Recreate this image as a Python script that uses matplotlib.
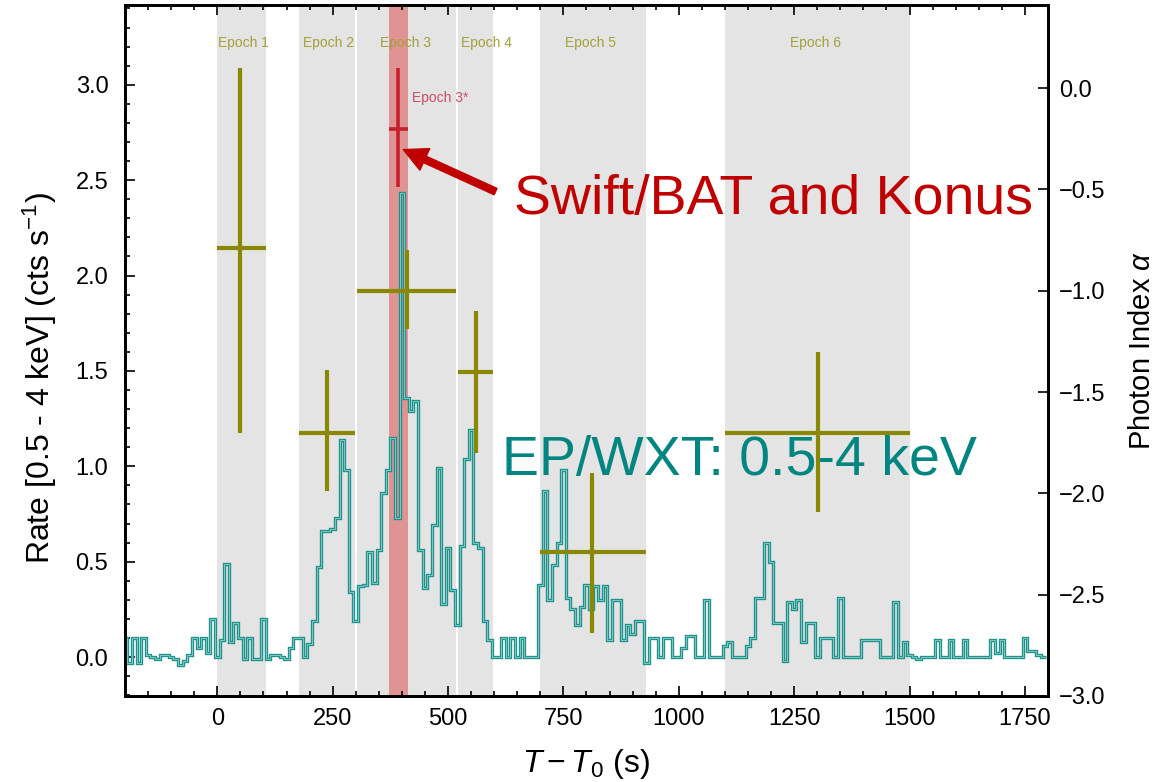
import numpy as np
import matplotlib
matplotlib.use("Agg")
import matplotlib.pyplot as plt
from matplotlib.ticker import MultipleLocator

plt.rcParams['font.family'] = ['Liberation Sans', 'DejaVu Sans']
plt.rcParams['mathtext.fontset'] = 'custom'
plt.rcParams['mathtext.rm'] = 'Liberation Sans'
plt.rcParams['mathtext.it'] = 'Liberation Sans:italic'

# EP/WXT light curve, 10 s bins centred on -200 ... 1790 s
bin_centers = np.arange(-200, 1800, 10)
rate = [
    0.10, -0.03, 0.10, -0.03, 0.10, 0.01, 0.00, -0.01, 0.01, 0.01,      # -200 .. -110
    0.00, -0.01, -0.04, -0.02, 0.01, 0.10, 0.05, 0.10, 0.02, 0.20,      # -100 .. -10
    0.00, 0.09, 0.49, 0.08, 0.18, 0.10, -0.01, 0.10, -0.01, -0.01,      # 0 .. 90
    0.20, -0.01, 0.01, 0.01, 0.00, -0.01, 0.05, 0.10, 0.10, 0.00,       # 100 .. 190
    0.07, 0.19, 0.47, 0.66, 0.66, 0.67, 0.73, 1.14, 0.98, 0.34,         # 200 .. 290
    0.19, 0.37, 0.38, 0.55, 0.39, 0.56, 0.86, 0.98, 1.15, 0.73,         # 300 .. 390
    2.43, 1.36, 1.29, 1.34, 0.56, 0.36, 0.43, 0.69, 0.99, 0.28,         # 400 .. 490
    0.57, 0.35, 0.17, 0.58, 1.04, 1.19, 0.60, 0.57, 0.19, 0.09,         # 500 .. 590
    0.00, 0.00, 0.10, 0.00, 0.10, 0.00, 0.10, 0.00, 0.00, 0.00,         # 600 .. 690
    0.38, 0.87, 0.30, 0.48, 0.60, 0.98, 0.31, 0.25, 0.17, 0.26,         # 700 .. 790
    0.38, 0.25, 0.37, 0.30, 0.37, 0.09, 0.30, 0.30, 0.09, 0.17,         # 800 .. 890
    0.12, 0.19, 0.19, -0.03, 0.10, 0.10, 0.00, 0.10, 0.10, 0.00,        # 900 .. 990
    0.00, 0.05, 0.11, 0.11, 0.00, 0.00, 0.30, 0.00, 0.00, 0.00,         # 1000 .. 1090
    0.06, 0.08, 0.00, 0.00, 0.00, 0.06, 0.10, 0.31, 0.31, 0.60,         # 1100 .. 1190
    0.50, 0.18, 0.18, -0.02, 0.29, 0.25, 0.30, 0.08, 0.18, 0.18,        # 1200 .. 1290
    0.00, 0.10, 0.10, 0.10, 0.00, 0.31, 0.00, 0.00, 0.00, 0.00,         # 1300 .. 1390
    0.09, 0.09, 0.09, 0.09, 0.00, 0.00, 0.00, 0.29, 0.00, 0.08,         # 1400 .. 1490
    0.01, 0.00, -0.01, 0.00, 0.00, 0.00, 0.09, 0.00, 0.00, 0.09,        # 1500 .. 1590
    0.00, 0.00, 0.09, 0.00, 0.00, 0.00, 0.00, 0.00, 0.09, 0.02,         # 1600 .. 1690
    0.09, 0.00, 0.00, 0.00, 0.00, 0.10, 0.03, 0.03, 0.01, 0.00,         # 1700 .. 1790
]

# time-resolved spectral fits: photon index per epoch
epoch_names = ['Epoch 1', 'Epoch 2', 'Epoch 3', 'Epoch 4', 'Epoch 5', 'Epoch 6']
epoch_start = [0, 178, 303, 522, 700, 1100]
epoch_stop = [105, 299, 518, 598, 928, 1500]
epoch_t = [50, 238, 410, 561, 813, 1301]
alpha = [-0.79, -1.70, -1.00, -1.40, -2.29, -1.70]
alpha_up = [0.89, 0.31, 0.20, 0.30, 0.39, 0.40]
alpha_lo = [0.91, 0.29, 0.19, 0.40, 0.40, 0.39]
label_t = [56, 241, 408, 583, 809, 1296]

# Epoch 3* (Swift/BAT + Konus joint window)
star_start, star_stop = 371, 414
star_t = 392
star_alpha = -0.20
star_up, star_lo = 0.30, 0.29

fig = plt.figure(figsize=(11.66, 7.82), dpi=100)
ax = fig.add_axes([0.1072, 0.110, 0.7916, 0.8836])
ax2 = ax.twinx()

for a, b in zip(epoch_start, epoch_stop):
    ax.axvspan(a, b, color='#e4e4e4', lw=0, zorder=0)
ax.axvspan(star_start, star_stop, color='#e09393', lw=0, zorder=1)

edges = np.append(bin_centers - 5, bin_centers[-1] + 5)
ax.stairs(rate, edges, baseline=None, color='#22918b', lw=2.4, zorder=3)
ax.stairs(rate, edges, baseline=None, color='#7cc9c3', lw=0.7, zorder=3)

# photon index crosses on the right axis
t = np.array(epoch_t)
xerr = [t - np.array(epoch_start), np.array(epoch_stop) - t]
ax2.errorbar(epoch_t, alpha, xerr=xerr, yerr=[alpha_lo, alpha_up],
             fmt='none', ecolor='#8a8800', elinewidth=3.0, capsize=0, zorder=5)
ax2.errorbar([star_t], [star_alpha],
             xerr=[[star_t - star_start], [star_stop - star_t]],
             yerr=[[star_lo], [star_up]],
             fmt='none', ecolor='#c3202c', elinewidth=2.6, capsize=0, zorder=5)

for name, lt in zip(epoch_names, label_t):
    ax.text(lt, 3.22, name, color='#a3a03a', fontsize=10, ha='center', va='center')
ax.text(421, 2.93, 'Epoch 3*', color='#c85064', fontsize=10, ha='left', va='center')

ax.annotate('', xy=(403, 2.66), xytext=(603, 2.44),
            arrowprops=dict(color='#c00000', width=5, headwidth=17, headlength=17,
                            shrink=0))
ax.text(642, 2.32, 'Swift/BAT and Konus', color='#c00000', fontsize=40,
        ha='left', va='baseline')
ax.text(616, 0.955, 'EP/WXT: 0.5-4 keV', color='#008580', fontsize=40,
        ha='left', va='baseline')

ax.set_xlim(-200, 1800)
ax.set_ylim(-0.204, 3.418)
ax2.set_ylim(-3.0, 0.41)

ax.xaxis.set_major_locator(MultipleLocator(250))
ax.xaxis.set_minor_locator(MultipleLocator(50))
ax.yaxis.set_major_locator(MultipleLocator(0.5))
ax.yaxis.set_minor_locator(MultipleLocator(0.1))
ax2.yaxis.set_major_locator(MultipleLocator(0.5))
ax2.yaxis.set_minor_locator(MultipleLocator(0.1))

ax.tick_params(which='both', direction='in', top=True, right=False, labelsize=17,
               width=1.2, colors='black')
ax.tick_params(axis='y', pad=12)
ax.tick_params(axis='x', pad=9)
ax.tick_params(which='major', length=7)
ax.tick_params(which='minor', length=3.5)
ax2.tick_params(which='both', direction='in', labelsize=17, width=1.2, pad=8)
ax2.tick_params(which='major', length=7)
ax2.tick_params(which='minor', length=0)
ax.yaxis.set_major_formatter(plt.FuncFormatter(lambda v, p: f'{v:.1f}'))
ax2.yaxis.set_major_formatter(plt.FuncFormatter(lambda v, p: f'{v:.1f}'.replace('-', '\u2212')))

for sp in ax.spines.values():
    sp.set_linewidth(2)
for sp in ax2.spines.values():
    sp.set_linewidth(2)

ax.set_xlabel('$T - T_0$ (s)', fontsize=23, labelpad=12)
ax.set_ylabel('Rate [0.5 - 4 keV] (cts s$^{-1}$)', fontsize=23)
ax.yaxis.set_label_coords(-0.072, 0.46)
ax2.set_ylabel(r'Photon Index $\alpha$', fontsize=21, labelpad=16)

fig.savefig('out.png', dpi=100)
